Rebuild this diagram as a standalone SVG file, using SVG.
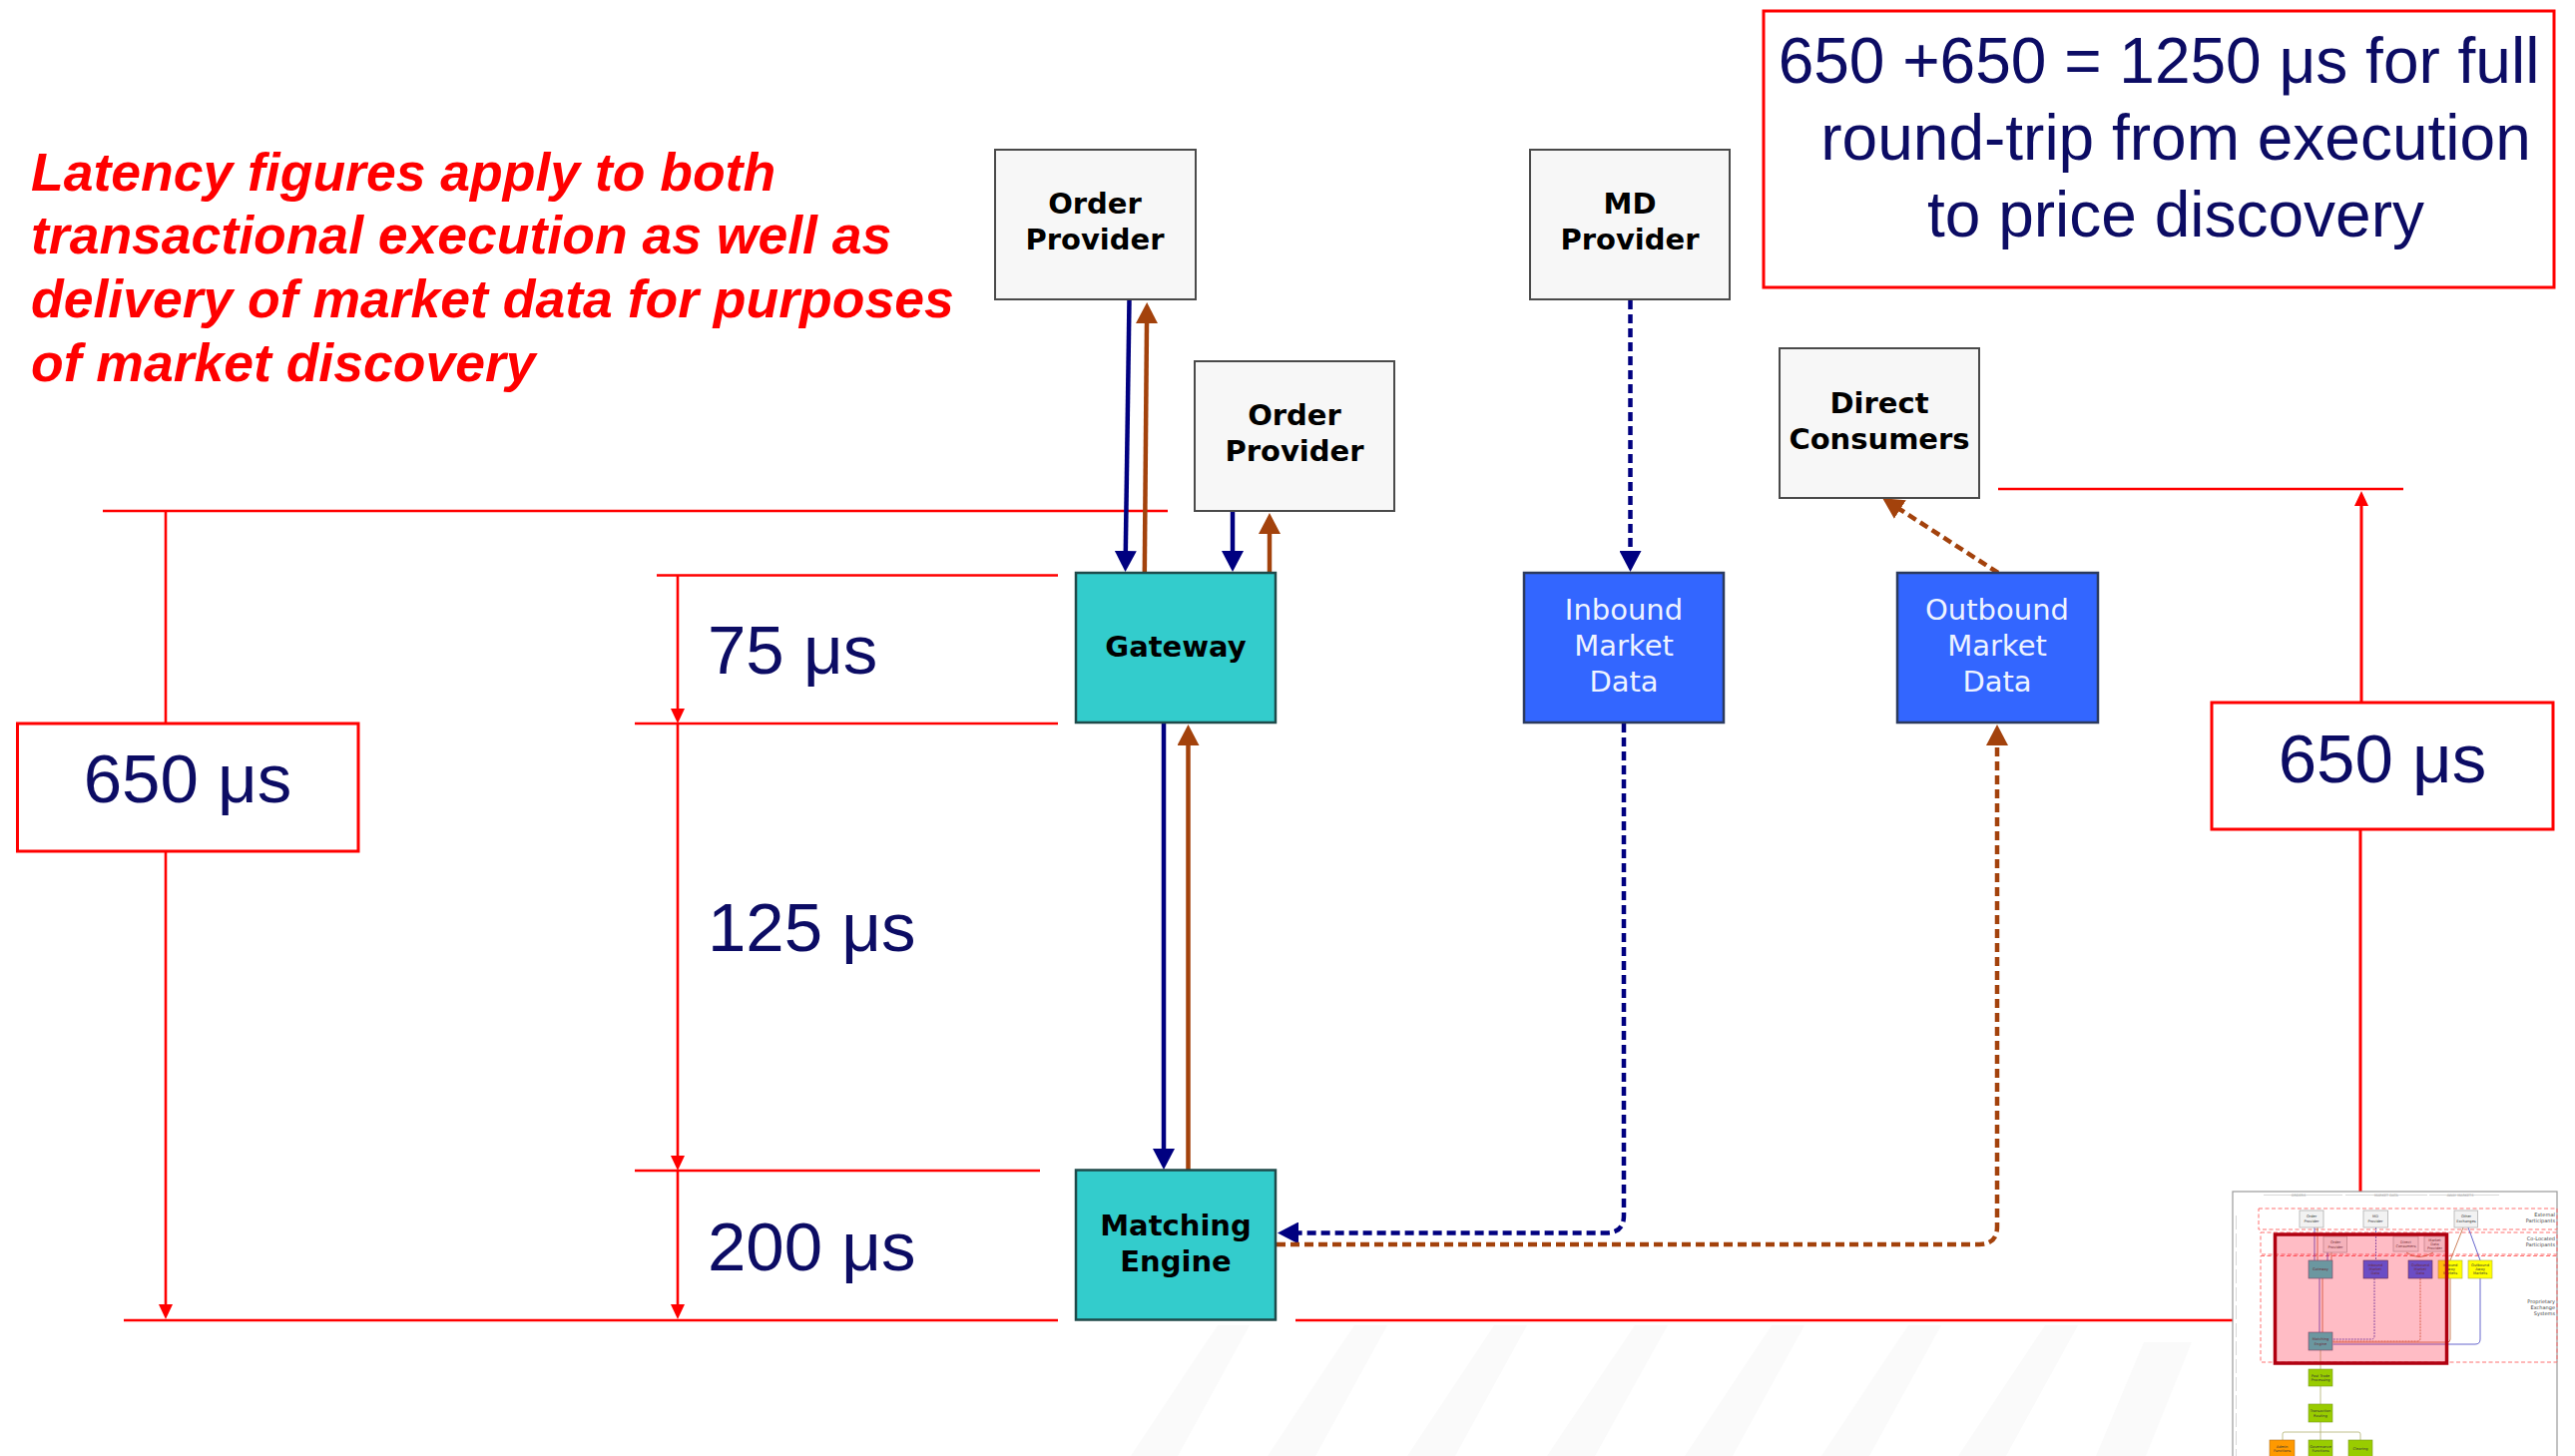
<svg xmlns="http://www.w3.org/2000/svg" width="2580" height="1459" viewBox="0 0 2580 1459">
<style>
  .bg{fill:#ffffff}
  .stripe{fill:#fafafa}
  .grey{fill:#f7f7f7;stroke:#4a4a4a;stroke-width:2}
  .teal{fill:#33cccc;stroke:#1e4a4a;stroke-width:2.5}
  .blue{fill:#3366ff;stroke:#2b3a5e;stroke-width:2.5}
  .lb{font-family:"DejaVu Sans",Verdana,sans-serif;font-weight:bold;font-size:29px;text-anchor:middle;fill:#000}
  .lw{font-family:"DejaVu Sans",Verdana,sans-serif;font-size:29px;text-anchor:middle;fill:#eef3ff}
  .navySolid{fill:none;stroke:#000080;stroke-width:4.5}
  .brownSolid{fill:none;stroke:#a3420c;stroke-width:4.5}
  .navyDash{fill:none;stroke:#000080;stroke-width:4.5;stroke-dasharray:9 5}
  .brownDash{fill:none;stroke:#a3420c;stroke-width:4.5;stroke-dasharray:9 5}
  .red{fill:none;stroke:#ff0000;stroke-width:2.6}
  .redbox{fill:#ffffff;stroke:#ff0000;stroke-width:3}
  .us{font-family:"Liberation Sans",Arial,sans-serif;font-size:69px;fill:#0c0c64}
  .note{font-family:"Liberation Sans",Arial,sans-serif;font-size:53.5px;font-weight:bold;font-style:italic;fill:#ff0000}
  .big{font-family:"Liberation Sans",Arial,sans-serif;font-size:64px;fill:#0c0c64;text-anchor:middle}
  .mini{font-family:"DejaVu Sans",Verdana,sans-serif;font-size:3.6px;text-anchor:middle;fill:#333}
  .miniR{font-family:"DejaVu Sans",Verdana,sans-serif;font-size:5px;text-anchor:end;fill:#444}
  .miniH{font-family:"DejaVu Sans",Verdana,sans-serif;font-size:3.4px;text-anchor:middle;fill:#999}
  .mzone{fill:none;stroke:#ff7070;stroke-width:1;stroke-dasharray:4 2.5}
  .mgrey{fill:#f2f2f2;stroke:#b0b0b0;stroke-width:0.8}
  .mteal{fill:#33cccc;stroke:#557;stroke-width:0.6}
  .mblue{fill:#3366ff;stroke:#335;stroke-width:0.6}
  .myel{fill:#ffff00;stroke:#aa4;stroke-width:0.6}
  .mgreen{fill:#99cc00;stroke:#7a9a20;stroke-width:0.6}
  .morange{fill:#ff9900;stroke:#b07020;stroke-width:0.6}
</style>
<defs>
  <marker id="aNavy" markerUnits="userSpaceOnUse" markerWidth="21" markerHeight="22" viewBox="0 0 21 22" refX="1" refY="11" orient="auto">
    <path d="M0,0 L21,11 L0,22 z" fill="#000080"/>
  </marker>
  <marker id="aBrown" markerUnits="userSpaceOnUse" markerWidth="21" markerHeight="22" viewBox="0 0 21 22" refX="1" refY="11" orient="auto">
    <path d="M0,0 L21,11 L0,22 z" fill="#a3420c"/>
  </marker>
  <marker id="aRed" markerUnits="userSpaceOnUse" markerWidth="15" markerHeight="14" viewBox="0 0 15 14" refX="1" refY="7" orient="auto">
    <path d="M0,0 L15,7 L0,14 z" fill="#ff0000"/>
  </marker>
</defs>

<rect class="bg" x="0" y="0" width="2580" height="1459"/>

<g id="background-stripes">
  <polygon class="stripe" points="1220,1328 1252,1328 1180,1459 1133,1459"/>
  <polygon class="stripe" points="1357,1328 1390,1328 1318,1459 1270,1459"/>
  <polygon class="stripe" points="1497,1328 1530,1328 1458,1459 1410,1459"/>
  <polygon class="stripe" points="1638,1328 1671,1328 1598,1459 1550,1459"/>
  <polygon class="stripe" points="1775,1328 1808,1328 1736,1459 1688,1459"/>
  <polygon class="stripe" points="1912,1328 1945,1328 1873,1459 1825,1459"/>
  <polygon class="stripe" points="2049,1328 2082,1328 2010,1459 1962,1459"/>
  <polygon class="stripe" points="2148,1345 2196,1345 2150,1459 2100,1459"/>
</g>

<g id="note">
  <text class="note" x="31" y="191">Latency figures apply to both</text>
  <text class="note" x="31" y="254">transactional execution as well as</text>
  <text class="note" x="31" y="318">delivery of market data for purposes</text>
  <text class="note" x="31" y="382">of market discovery</text>
</g>

<g id="summary-box">
  <rect class="redbox" x="1767" y="11" width="792" height="277"/>
  <text class="big" x="2163" y="83">650 +650 = 1250 μs for full</text>
  <text class="big" x="2180" y="160">round-trip from execution</text>
  <text class="big" x="2180" y="237">to price discovery</text>
</g>

<g id="latency-guides">
  <line class="red" x1="103" y1="512" x2="1170" y2="512"/>
  <line class="red" x1="658" y1="576.5" x2="1060" y2="576.5"/>
  <line class="red" x1="636" y1="725" x2="1060" y2="725"/>
  <line class="red" x1="636" y1="1173" x2="1042" y2="1173"/>
  <line class="red" x1="124" y1="1323" x2="1060" y2="1323"/>
  <line class="red" x1="1298" y1="1323" x2="2237" y2="1323"/>
  <line class="red" x1="2002" y1="490" x2="2408" y2="490"/>
  <line class="red" x1="166" y1="512" x2="166" y2="725"/>
  <line class="red" x1="166" y1="853" x2="166" y2="1308" marker-end="url(#aRed)"/>
  <line class="red" x1="679" y1="577" x2="679" y2="711" marker-end="url(#aRed)"/>
  <line class="red" x1="679" y1="726" x2="679" y2="1159" marker-end="url(#aRed)"/>
  <line class="red" x1="679" y1="1174" x2="679" y2="1308" marker-end="url(#aRed)"/>
  <line class="red" x1="2366" y1="704" x2="2366" y2="506" marker-end="url(#aRed)" style="stroke-width:3"/>
  <line class="red" x1="2365" y1="831" x2="2365" y2="1194" style="stroke-width:3"/>
</g>

<g id="latency-left">
  <rect class="redbox" x="17.5" y="725" width="341.5" height="128"/>
  <text class="us" x="188" y="804" text-anchor="middle">650 μs</text>
</g>
<g id="latency-right">
  <rect class="redbox" x="2216" y="704" width="342" height="127"/>
  <text class="us" x="2387" y="784" text-anchor="middle">650 μs</text>
</g>
<g id="latency-75"><text class="us" x="709" y="675">75 μs</text></g>
<g id="latency-125"><text class="us" x="709" y="953">125 μs</text></g>
<g id="latency-200"><text class="us" x="709" y="1273">200 μs</text></g>

<g id="connectors">
  <path class="navySolid" d="M1131.5,300 L1127.8,553" marker-end="url(#aNavy)"/>
  <path class="brownSolid" d="M1146.8,574 L1149,323" marker-end="url(#aBrown)"/>
  <path class="navySolid" d="M1235,512 L1235,553" marker-end="url(#aNavy)"/>
  <path class="brownSolid" d="M1272,574 L1272,534" marker-end="url(#aBrown)"/>
  <path class="navySolid" d="M1166,724 L1166,1152" marker-end="url(#aNavy)"/>
  <path class="brownSolid" d="M1190.5,1172 L1190.5,746" marker-end="url(#aBrown)"/>
  <path class="navyDash" d="M1633.5,301 L1633.5,553" marker-end="url(#aNavy)"/>
  <path class="navyDash" d="M1627,725 V1218 Q1627,1235.5 1609,1235.5 H1300" marker-end="url(#aNavy)"/>
  <path class="brownDash" d="M1279,1247 H1983 Q2001,1247 2001,1229 V746" marker-end="url(#aBrown)"/>
  <path class="brownDash" d="M2002,574 L1903,510" marker-end="url(#aBrown)"/>
</g>

<g id="order-provider-1">
  <rect class="grey" x="997" y="150" width="201" height="150"/>
  <text class="lb" x="1097" y="214">Order</text>
  <text class="lb" x="1097" y="250">Provider</text>
</g>
<g id="order-provider-2">
  <rect class="grey" x="1197" y="362" width="200" height="150"/>
  <text class="lb" x="1297" y="426">Order</text>
  <text class="lb" x="1297" y="462">Provider</text>
</g>
<g id="md-provider">
  <rect class="grey" x="1533" y="150" width="200" height="150"/>
  <text class="lb" x="1633" y="214">MD</text>
  <text class="lb" x="1633" y="250">Provider</text>
</g>
<g id="direct-consumers">
  <rect class="grey" x="1783" y="349" width="200" height="150"/>
  <text class="lb" x="1883" y="414">Direct</text>
  <text class="lb" x="1883" y="450">Consumers</text>
</g>
<g id="gateway">
  <rect class="teal" x="1078" y="574" width="200" height="150"/>
  <text class="lb" x="1178" y="658">Gateway</text>
</g>
<g id="inbound-market-data">
  <rect class="blue" x="1527" y="574" width="200" height="150"/>
  <text class="lw" x="1627" y="621">Inbound</text>
  <text class="lw" x="1627" y="657">Market</text>
  <text class="lw" x="1627" y="693">Data</text>
</g>
<g id="outbound-market-data">
  <rect class="blue" x="1901" y="574" width="201" height="150"/>
  <text class="lw" x="2001" y="621">Outbound</text>
  <text class="lw" x="2001" y="657">Market</text>
  <text class="lw" x="2001" y="693">Data</text>
</g>
<g id="matching-engine">
  <rect class="teal" x="1078" y="1172.5" width="200" height="150"/>
  <text class="lb" x="1178" y="1238">Matching</text>
  <text class="lb" x="1178" y="1274">Engine</text>
</g>

<g id="thumbnail">
  <rect x="2237" y="1194" width="325" height="280" fill="#ffffff" stroke="#9a9a9a" stroke-width="1.2"/>
  <g stroke="#c8c8c8" stroke-width="0.7" fill="none">
    <line x1="2268" y1="1197.5" x2="2347" y2="1197.5"/>
    <line x1="2350" y1="1197.5" x2="2432" y2="1197.5"/>
    <line x1="2434" y1="1197.5" x2="2504" y2="1197.5"/>
    <line x1="2240.5" y1="1218" x2="2240.5" y2="1459" stroke-dasharray="14 4"/>
  </g>
  <text class="miniH" x="2303" y="1198.6">ORDERS</text>
  <text class="miniH" x="2391" y="1198.6">MARKET DATA</text>
  <text class="miniH" x="2465" y="1198.6">AWAY MARKETS</text>
  <rect class="mzone" x="2263" y="1211" width="299" height="21"/>
  <rect class="mzone" x="2265" y="1235" width="297" height="22"/>
  <rect class="mzone" x="2265" y="1258.5" width="297" height="106.5"/>
  <text class="miniR" x="2560" y="1219">External</text>
  <text class="miniR" x="2560" y="1225">Participants</text>
  <text class="miniR" x="2560" y="1243">Co-Located</text>
  <text class="miniR" x="2560" y="1249">Participants</text>
  <text class="miniR" x="2560" y="1306">Proprietary</text>
  <text class="miniR" x="2560" y="1312">Exchange</text>
  <text class="miniR" x="2560" y="1318">Systems</text>
  <g fill="none" stroke-width="0.8">
    <line x1="2319" y1="1230" x2="2319" y2="1263" stroke="#4040c0"/>
    <line x1="2322" y1="1230" x2="2322" y2="1263" stroke="#c06030"/>
    <line x1="2332" y1="1255" x2="2332" y2="1263" stroke="#4040c0"/>
    <line x1="2336" y1="1255" x2="2336" y2="1263" stroke="#c06030"/>
    <line x1="2380.5" y1="1230" x2="2380.5" y2="1263" stroke="#4040c0" stroke-dasharray="2 1"/>
    <line x1="2324" y1="1281" x2="2324" y2="1335" stroke="#4040c0"/>
    <line x1="2327" y1="1281" x2="2327" y2="1335" stroke="#c06030"/>
    <path d="M2379,1281 V1339 Q2379,1342 2376,1342 H2337.5" stroke="#4040c0" stroke-dasharray="2 1"/>
    <path d="M2337.5,1344 H2422 Q2425,1344 2425,1341 V1281" stroke="#c06030" stroke-dasharray="2 1"/>
    <line x1="2468" y1="1230" x2="2455" y2="1263" stroke="#c06030"/>
    <line x1="2473" y1="1230" x2="2485" y2="1263" stroke="#4040c0"/>
    <path d="M2455,1281 V1342 Q2455,1345 2452,1345 H2337.5" stroke="#c06030"/>
    <path d="M2485,1281 V1342 Q2485,1347 2480,1347 H2337.5" stroke="#4040c0"/>
    <path d="M2411,1255 Q2424,1264 2438,1255" stroke="#c06030"/>
    <line x1="2325" y1="1353" x2="2325" y2="1372" stroke="#b0b070"/>
    <line x1="2325" y1="1389" x2="2325" y2="1407" stroke="#b0b070"/>
    <path d="M2325,1425 V1443 M2287,1443 V1437 Q2287,1435 2289,1435 H2363 Q2365,1435 2365,1437 V1443" stroke="#b0b070"/>
  </g>
  <rect class="mgrey" x="2304" y="1213" width="24" height="17"/>
  <text class="mini" x="2316" y="1220">Order</text><text class="mini" x="2316" y="1224.5">Provider</text>
  <rect class="mgrey" x="2368" y="1213" width="24.5" height="17"/>
  <text class="mini" x="2380" y="1220">MD</text><text class="mini" x="2380" y="1224.5">Provider</text>
  <rect class="mgrey" x="2459" y="1213" width="23.5" height="17"/>
  <text class="mini" x="2471" y="1220">Other</text><text class="mini" x="2471" y="1224.5">Exchanges</text>
  <rect class="mgrey" x="2328" y="1239" width="23.5" height="16"/>
  <text class="mini" x="2340" y="1246">Order</text><text class="mini" x="2340" y="1250.5">Provider</text>
  <rect class="mgrey" x="2398" y="1239" width="25" height="15"/>
  <text class="mini" x="2410.5" y="1245.5">Direct</text><text class="mini" x="2410.5" y="1250">Consumers</text>
  <rect class="mgrey" x="2429" y="1239" width="21" height="15"/>
  <text class="mini" x="2439.5" y="1243.5">Market</text><text class="mini" x="2439.5" y="1247.5">Data</text><text class="mini" x="2439.5" y="1251.5">Provider</text>
  <rect class="mteal" x="2313" y="1263" width="24" height="18"/>
  <text class="mini" x="2325" y="1273">Gateway</text>
  <rect class="mblue" x="2368" y="1263" width="24.5" height="18"/>
  <text class="mini" x="2380" y="1269" fill="#e0e8ff">Inbound</text><text class="mini" x="2380" y="1273" fill="#e0e8ff">Market</text><text class="mini" x="2380" y="1277" fill="#e0e8ff">Data</text>
  <rect class="mblue" x="2413" y="1263" width="24" height="18"/>
  <text class="mini" x="2425" y="1269" fill="#e0e8ff">Outbound</text><text class="mini" x="2425" y="1273" fill="#e0e8ff">Market</text><text class="mini" x="2425" y="1277" fill="#e0e8ff">Data</text>
  <rect class="myel" x="2443" y="1263" width="24" height="18"/>
  <text class="mini" x="2455" y="1269">Inbound</text><text class="mini" x="2455" y="1273">Away</text><text class="mini" x="2455" y="1277">Markets</text>
  <rect class="myel" x="2473" y="1263" width="24" height="18"/>
  <text class="mini" x="2485" y="1269">Outbound</text><text class="mini" x="2485" y="1273">Away</text><text class="mini" x="2485" y="1277">Markets</text>
  <rect class="mteal" x="2313" y="1335" width="24" height="18"/>
  <text class="mini" x="2325" y="1343">Matching</text><text class="mini" x="2325" y="1347.5">Engine</text>
  <rect class="mgreen" x="2313" y="1372" width="24" height="17"/>
  <text class="mini" x="2325" y="1379.5">Post Trade</text><text class="mini" x="2325" y="1384">Processing</text>
  <rect class="mgreen" x="2313" y="1407" width="24" height="18"/>
  <text class="mini" x="2325" y="1415">Transaction</text><text class="mini" x="2325" y="1419.5">Routing</text>
  <rect class="morange" x="2274" y="1443" width="25" height="20"/>
  <text class="mini" x="2286.5" y="1450.5">Admin</text><text class="mini" x="2286.5" y="1455">Functions</text>
  <rect class="mgreen" x="2313" y="1443" width="24" height="20"/>
  <text class="mini" x="2325" y="1450.5">Governance</text><text class="mini" x="2325" y="1455">Functions</text>
  <rect class="mgreen" x="2353" y="1443" width="24" height="20"/>
  <text class="mini" x="2365" y="1452.5">Clearing</text>
  <rect x="2279.5" y="1237" width="172" height="129" fill="#ff1030" fill-opacity="0.28" stroke="#b00010" stroke-width="3.5"/>
</g>
</svg>
